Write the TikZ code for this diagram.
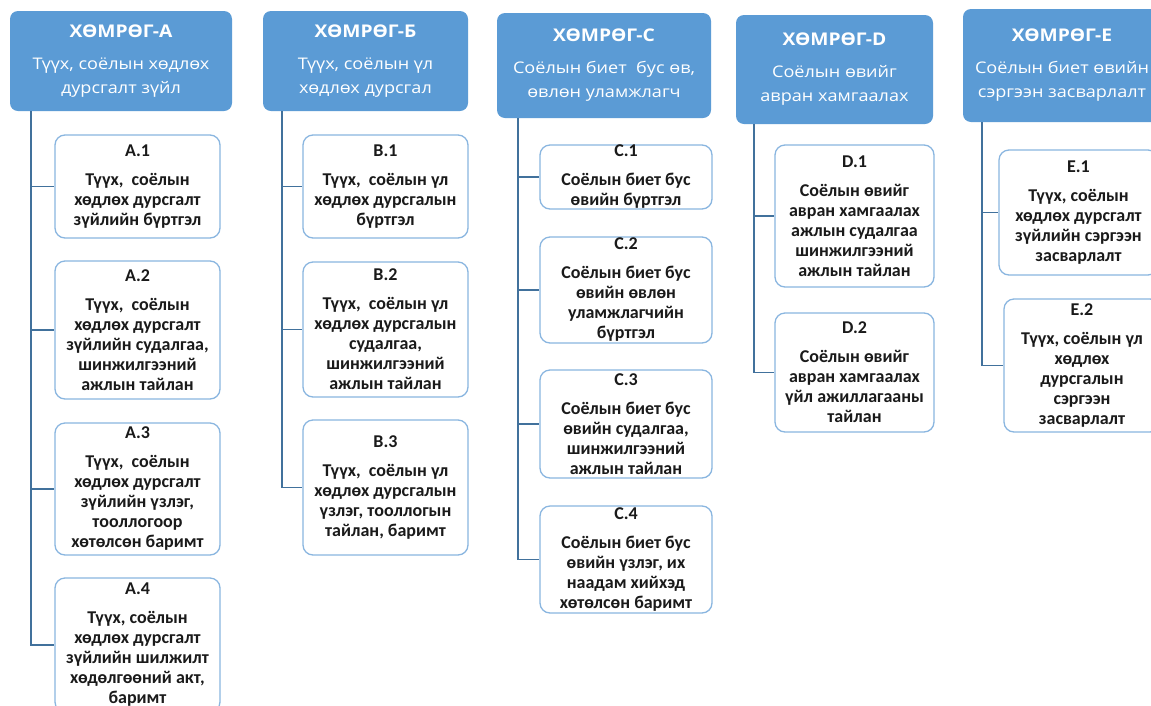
\documentclass[tikz,border=0pt]{standalone}
\usepackage{fontspec}
\setmainfont{Carlito}
\newfontfamily\hdrfont[FakeStretch=1.13]{Open Sans}
\newfontfamily\hdrtitle[FakeStretch=1.1]{Open Sans}
\definecolor{hdrblue}{HTML}{5B9BD5}
\definecolor{boxedge}{HTML}{8AB6E0}
\definecolor{connc}{HTML}{41719C}
\definecolor{bodytext}{HTML}{1A1A1A}
\newcommand\htitle[1]{{\hdrtitle\bfseries\fontsize{17.5}{24}\selectfont #1}}
\tikzset{
  hdr/.style={fill=hdrblue, draw=none, rounded corners=8pt, text=white, align=center,
    inner sep=0pt, font=\hdrfont\fontsize{16}{24}\selectfont},
  child/.style={fill=white, draw=boxedge, line width=1.3pt, rounded corners=10pt,
    align=center, inner sep=0pt, text=bodytext, font=\bfseries\fontsize{18}{20}\selectfont},
  conn/.style={draw=connc, line width=1.5pt}
}
\begin{document}
\begin{tikzpicture}[x=1pt,y=-1pt]
\useasboundingbox[fill=white] (0,0) rectangle (1151,705);
% headers
\node[hdr, minimum width=222pt, minimum height=100pt] (hA) at (121,61)
  {\htitle{ХӨМРӨГ-А}\\[8pt]Түүх, соёлын хөдлөх\\дурсгалт зүйл};
\node[hdr, minimum width=205pt, minimum height=100pt] (hB) at (365.5,61)
  {\htitle{ХӨМРӨГ-Б}\\[8pt]Түүх, соёлын үл\\хөдлөх дурсгал};
\node[hdr, minimum width=214pt, minimum height=105pt] (hC) at (604,65.5)
  {\htitle{ХӨМРӨГ-C}\\[8pt]Соёлын биет\ \ бус өв,\\өвлөн уламжлагч};
\node[hdr, minimum width=197pt, minimum height=109pt] (hD) at (834.5,69.5)
  {\htitle{ХӨМРӨГ-D}\\[8pt]Соёлын өвийг\\авран хамгаалах};
\node[hdr, minimum width=198pt, minimum height=113pt] (hE) at (1062,65.5)
  {\htitle{ХӨМРӨГ-E}\\[8pt]Соёлын биет өвийн\\сэргээн засварлалт};
% column A
\node[child, minimum width=165pt, minimum height=103pt] (a1) at (137.5,186.5)
  {A.1\\[9pt]Түүх,\ \ соёлын\\хөдлөх дурсгалт\\зүйлийн бүртгэл};
\node[child, minimum width=165pt, minimum height=138pt] (a2) at (137.5,330)
  {A.2\\[9pt]Түүх,\ \ соёлын\\хөдлөх дурсгалт\\зүйлийн судалгаа,\\шинжилгээний\\ажлын тайлан};
\node[child, minimum width=165pt, minimum height=132pt] (a3) at (137.5,489)
  {A.3\\[9pt]Түүх,\ \ соёлын\\хөдлөх дурсгалт\\зүйлийн үзлэг,\\тооллогоор\\хөтөлсөн баримт};
\node[child, minimum width=165pt, minimum height=134pt] (a4) at (137.5,645)
  {A.4\\[9pt]Түүх, соёлын\\хөдлөх дурсгалт\\зүйлийн шилжилт\\хөдөлгөөний акт,\\баримт};
% column B
\node[child, minimum width=165pt, minimum height=103pt] (b1) at (385.5,186.5)
  {B.1\\[9pt]Түүх,\ \ соёлын үл\\хөдлөх дурсгалын\\бүртгэл};
\node[child, minimum width=165pt, minimum height=135pt] (b2) at (385.5,329.5)
  {B.2\\[9pt]Түүх,\ \ соёлын үл\\хөдлөх дурсгалын\\судалгаа,\\шинжилгээний\\ажлын тайлан};
\node[child, minimum width=165pt, minimum height=135pt] (b3) at (385.5,487.5)
  {B.3\\[9pt]Түүх,\ \ соёлын үл\\хөдлөх дурсгалын\\үзлэг, тооллогын\\тайлан, баримт};
% column C
\node[child, minimum width=172pt, minimum height=64pt] (c1) at (626,177)
  {C.1\\[9pt]Соёлын биет бус\\өвийн бүртгэл};
\node[child, minimum width=172pt, minimum height=106pt] (c2) at (626,290)
  {C.2\\[9pt]Соёлын биет бус\\өвийн өвлөн\\уламжлагчийн\\бүртгэл};
\node[child, minimum width=172pt, minimum height=108pt] (c3) at (626,424)
  {C.3\\[9pt]Соёлын биет бус\\өвийн судалгаа,\\шинжилгээний\\ажлын тайлан};
\node[child, minimum width=172pt, minimum height=107pt] (c4) at (626,559.5)
  {C.4\\[9pt]Соёлын биет бус\\өвийн үзлэг, их\\наадам хийхэд\\хөтөлсөн баримт};
% column D
\node[child, minimum width=159pt, minimum height=142pt] (d1) at (854.5,216)
  {D.1\\[9pt]Соёлын өвийг\\авран хамгаалах\\ажлын судалгаа\\шинжилгээний\\ажлын тайлан};
\node[child, minimum width=159pt, minimum height=119pt] (d2) at (854.5,372.5)
  {D.2\\[9pt]Соёлын өвийг\\авран хамгаалах\\үйл ажиллагааны\\тайлан};
% column E
\node[child, minimum width=159pt, minimum height=125pt] (e1) at (1078.5,212.5)
  {E.1\\[9pt]Түүх, соёлын\\хөдлөх дурсгалт\\зүйлийн сэргээн\\засварлалт};
\node[child, minimum width=156pt, minimum height=133pt] (e2) at (1082,365.5)
  {E.2\\[9pt]Түүх, соёлын үл\\хөдлөх\\дурсгалын\\сэргээн\\засварлалт};
% trunks
\coordinate (tA) at (31,111);
\coordinate (tB) at (282,111);
\coordinate (tC) at (518,118);
\coordinate (tD) at (754,124);
\coordinate (tE) at (982,122);
\draw[conn] (tA) |- (a4.west);
\draw[conn] (a1.west -| tA) -- (a1.west);
\draw[conn] (a2.west -| tA) -- (a2.west);
\draw[conn] (a3.west -| tA) -- (a3.west);
\draw[conn] (tB) |- (b3.west);
\draw[conn] (b1.west -| tB) -- (b1.west);
\draw[conn] (b2.west -| tB) -- (b2.west);
\draw[conn] (tC) |- (c4.west);
\draw[conn] (c1.west -| tC) -- (c1.west);
\draw[conn] (c2.west -| tC) -- (c2.west);
\draw[conn] (c3.west -| tC) -- (c3.west);
\draw[conn] (tD) |- (d2.west);
\draw[conn] (d1.west -| tD) -- (d1.west);
\draw[conn] (tE) |- (e2.west);
\draw[conn] (e1.west -| tE) -- (e1.west);
\end{tikzpicture}
\end{document}
